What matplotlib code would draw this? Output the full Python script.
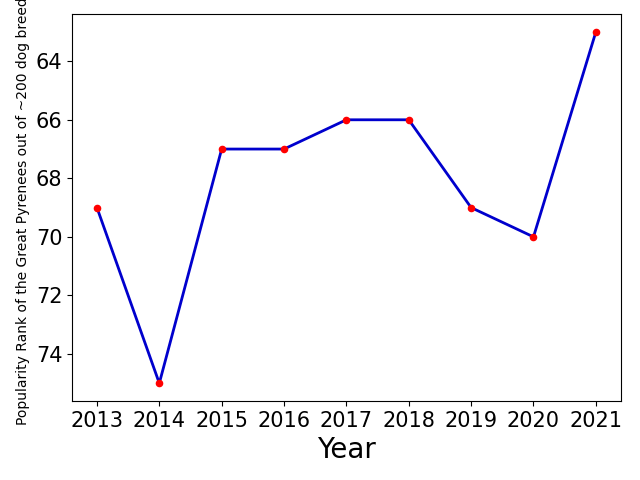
import matplotlib
matplotlib.use("Agg")
import matplotlib.pyplot as plt

years = [2013, 2014, 2015, 2016, 2017, 2018, 2019, 2020, 2021]
ranks = [69, 75, 67, 67, 66, 66, 69, 70, 63]

fig, ax = plt.subplots(figsize=(6.4, 4.8), dpi=100)
ax.plot(years, ranks, color="mediumblue", linewidth=2)
ax.scatter(years, ranks, color="red", s=20, zorder=3)
ax.invert_yaxis()
ax.set_xticks(years)
ax.tick_params(labelsize=15)
ax.set_xlabel("Year", fontsize=20)
ax.set_ylabel("Popularity Rank of the Great Pyrenees out of ~200 dog breeds", fontsize=10)
fig.subplots_adjust(left=0.1125, right=0.97, top=0.97, bottom=0.165)
fig.savefig("out.png")
